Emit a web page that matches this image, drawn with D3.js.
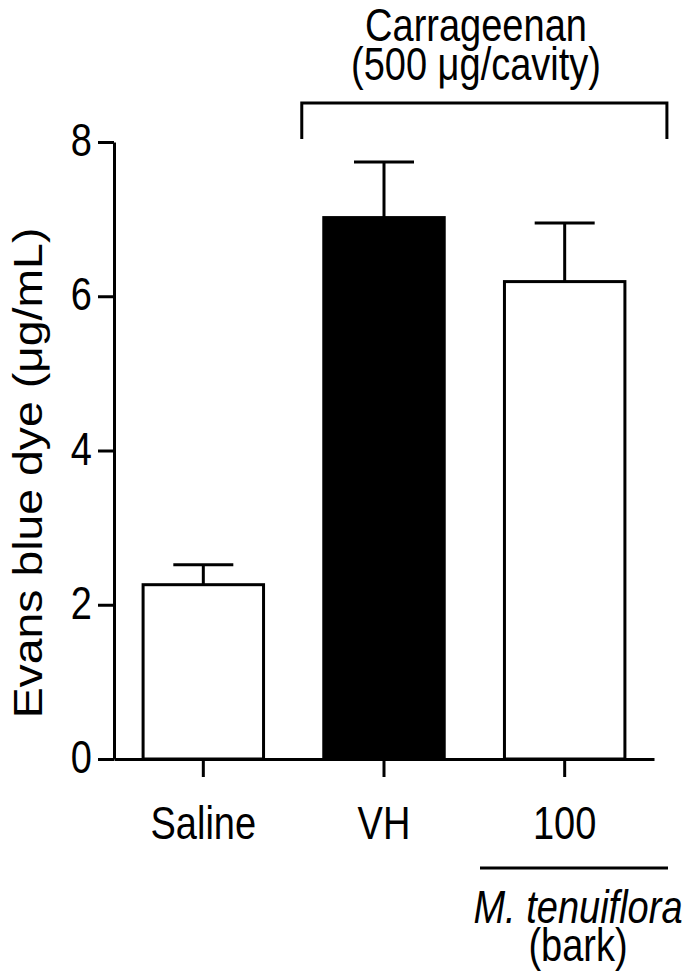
<!DOCTYPE html>
<html>
<head>
<meta charset="utf-8">
<script src="https://cdn.jsdelivr.net/npm/d3@7"></script>
<style>
  body { margin: 0; background: #fff; }
  text { font-family: Arial, "Liberation Sans", sans-serif; fill: #000; }
</style>
</head>
<body>
<svg id="chart"></svg>
<script>
// values
var groups = ["Saline", "VH", "100"];
var means = [2.26, 7.02, 6.19];
var sems = [0.26, 0.72, 0.76];
var fills = ["#fff", "#000", "#fff"];
var yTicks = [0, 2, 4, 6, 8];

var svgWidth = 684, svgHeight = 972;
var fs = 38, stretch = 1.2;  // picture looks stretched vertically

var svg = d3.select("#chart")
  .attr("width", svgWidth)
  .attr("height", svgHeight);

var y = d3.scaleLinear().domain([0, 8]).range([759, 142]);
var x = d3.scaleBand().domain(groups).range([114, 654])
  .paddingInner(1 / 3).paddingOuter(0.161);

function label(g, tx, ty, str, anchor, italic) {
  var t = g.append("text")
    .attr("transform", "translate(" + tx + "," + ty + ") scale(1," + stretch + ")")
    .attr("text-anchor", anchor || "middle")
    .style("font-size", fs + "px")
    .text(str);
  if (italic) t.style("font-style", "italic");
  return t;
}

// bars
svg.selectAll(".bar")
  .data(groups)
  .enter().append("rect")
  .attr("class", "bar")
  .attr("x", function(d) { return x(d); })
  .attr("width", x.bandwidth())
  .attr("y", function(d, i) { return y(means[i]); })
  .attr("height", function(d, i) { return y(0) - y(means[i]); })
  .attr("fill", function(d, i) { return fills[i]; })
  .attr("stroke", "#000")
  .attr("stroke-width", 3);

// error bars (upper only)
var capHalf = 30;
groups.forEach(function(d, i) {
  var cx = x(d) + x.bandwidth() / 2;
  svg.append("line")
    .attr("x1", cx).attr("x2", cx)
    .attr("y1", y(means[i])).attr("y2", y(means[i] + sems[i]))
    .attr("stroke", "#000").attr("stroke-width", 3);
  svg.append("line")
    .attr("x1", cx - capHalf).attr("x2", cx + capHalf)
    .attr("y1", y(means[i] + sems[i])).attr("y2", y(means[i] + sems[i]))
    .attr("stroke", "#000").attr("stroke-width", 3);
});

// y axis
var yAxis = svg.append("g")
  .attr("transform", "translate(114,0)")
  .call(d3.axisLeft(y).tickValues(yTicks).tickSize(16).tickSizeOuter(0));
yAxis.selectAll("path, line").attr("stroke", "#000").attr("stroke-width", 3);
yAxis.selectAll("text").remove();
yTicks.forEach(function(v) {
  label(svg, 92, y(v) + 14, String(v), "end");
});

// x axis
var xAxis = svg.append("g")
  .attr("transform", "translate(0,759)")
  .call(d3.axisBottom(x).tickSize(18).tickSizeOuter(0));
xAxis.selectAll("path, line").attr("stroke", "#000").attr("stroke-width", 3);
xAxis.selectAll("text").remove();
groups.forEach(function(d) {
  label(svg, x(d) + x.bandwidth() / 2, 839, d, "middle");
});

// y axis title
svg.append("text")
  .attr("transform", "translate(42,473) rotate(-90) scale(1.16,1)")
  .attr("text-anchor", "middle")
  .style("font-size", "40px")
  .text("Evans blue dye (\u03bcg/mL)");

// carrageenan bracket
var bx0 = x("VH") - 22, bx1 = x("100") + x.bandwidth() + 42;
svg.append("path")
  .attr("d", "M" + bx0 + ",139V103H" + bx1 + "V139")
  .attr("fill", "none").attr("stroke", "#000").attr("stroke-width", 3);
label(svg, 476, 41, "Carrageenan", "middle");
label(svg, 476, 80, "(500 \u03bcg/cavity)", "middle");

// extract annotation
svg.append("line")
  .attr("x1", 480).attr("x2", 668)
  .attr("y1", 868).attr("y2", 868)
  .attr("stroke", "#000").attr("stroke-width", 3);
label(svg, 578, 923, "M. tenuiflora", "middle", true);
label(svg, 578, 961, "(bark)", "middle");
</script>
</body>
</html>
